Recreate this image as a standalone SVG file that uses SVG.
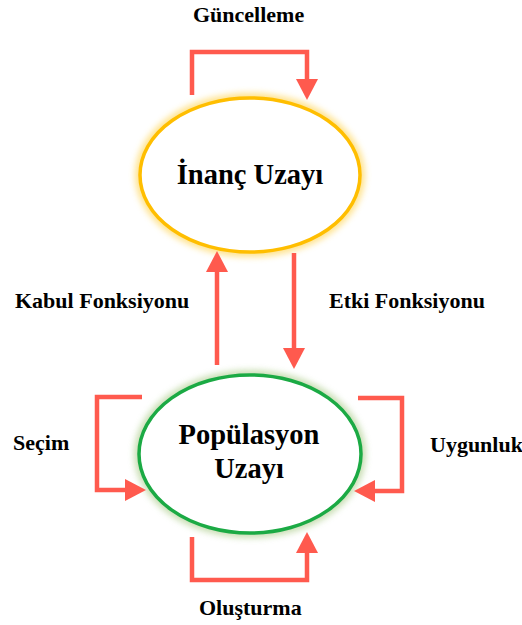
<svg xmlns="http://www.w3.org/2000/svg" width="522" height="625" viewBox="0 0 522 625">
<style>
.lbl{font-weight:bold;font-size:22px;fill:#000}
.node{font-weight:bold;font-size:28.5px;fill:#000;text-anchor:middle}
.con{fill:none;stroke:#FF5A4E;stroke-width:4.5;stroke-linejoin:miter}
</style>
<defs>
<marker id="ah" markerUnits="userSpaceOnUse" markerWidth="21" markerHeight="22" refX="0" refY="11" orient="auto" viewBox="0 0 21 22">
<path d="M0,0 L21,11 L0,22 Z" fill="#FF5A4E"/>
</marker>
<filter id="glow" x="-20%" y="-20%" width="140%" height="140%">
<feGaussianBlur stdDeviation="3"/>
</filter>
</defs>
<rect width="522" height="625" fill="#fff"/>
<g id="inanc">
<ellipse cx="250" cy="175" rx="110" ry="77" fill="none" stroke="#FFD966" stroke-width="10" opacity="0.75" filter="url(#glow)"/>
<ellipse cx="250" cy="175" rx="110" ry="77" fill="#fff" stroke="#FFBE00" stroke-width="3.5"/>
<text class="node" font-family="Liberation Serif, DejaVu Serif, serif" x="250" y="184">İnanç Uzayı</text>
</g>
<g id="populasyon">
<ellipse cx="250" cy="454" rx="111" ry="79" fill="none" stroke="#B7D39A" stroke-width="10" opacity="0.75" filter="url(#glow)"/>
<ellipse cx="250" cy="454" rx="111" ry="79" fill="#fff" stroke="#1BAA44" stroke-width="3.5"/>
<text class="node" font-family="Liberation Serif, DejaVu Serif, serif" x="249" y="444">Popülasyon</text>
<text class="node" font-family="Liberation Serif, DejaVu Serif, serif" x="249" y="478">Uzayı</text>
</g>
<g id="connectors">
<path class="con" d="M192,95 V52 H307 V79" marker-end="url(#ah)"/>
<path class="con" d="M217,365 V272" marker-end="url(#ah)"/>
<path class="con" d="M294,253 V348" marker-end="url(#ah)"/>
<path class="con" d="M142,397 H97 V490 H125" marker-end="url(#ah)"/>
<path class="con" d="M358,398 H402 V491 H375" marker-end="url(#ah)"/>
<path class="con" d="M192,537 V580 H307 V553" marker-end="url(#ah)"/>
</g>
<g id="labels" font-family="Liberation Serif, DejaVu Serif, serif">
<text class="lbl" x="193" y="22">Güncelleme</text>
<text class="lbl" x="15" y="308">Kabul Fonksiyonu</text>
<text class="lbl" x="329" y="308">Etki Fonksiyonu</text>
<text class="lbl" x="13" y="450">Seçim</text>
<text class="lbl" x="430" y="452">Uygunluk</text>
<text class="lbl" x="199" y="615">Oluşturma</text>
</g>
</svg>
